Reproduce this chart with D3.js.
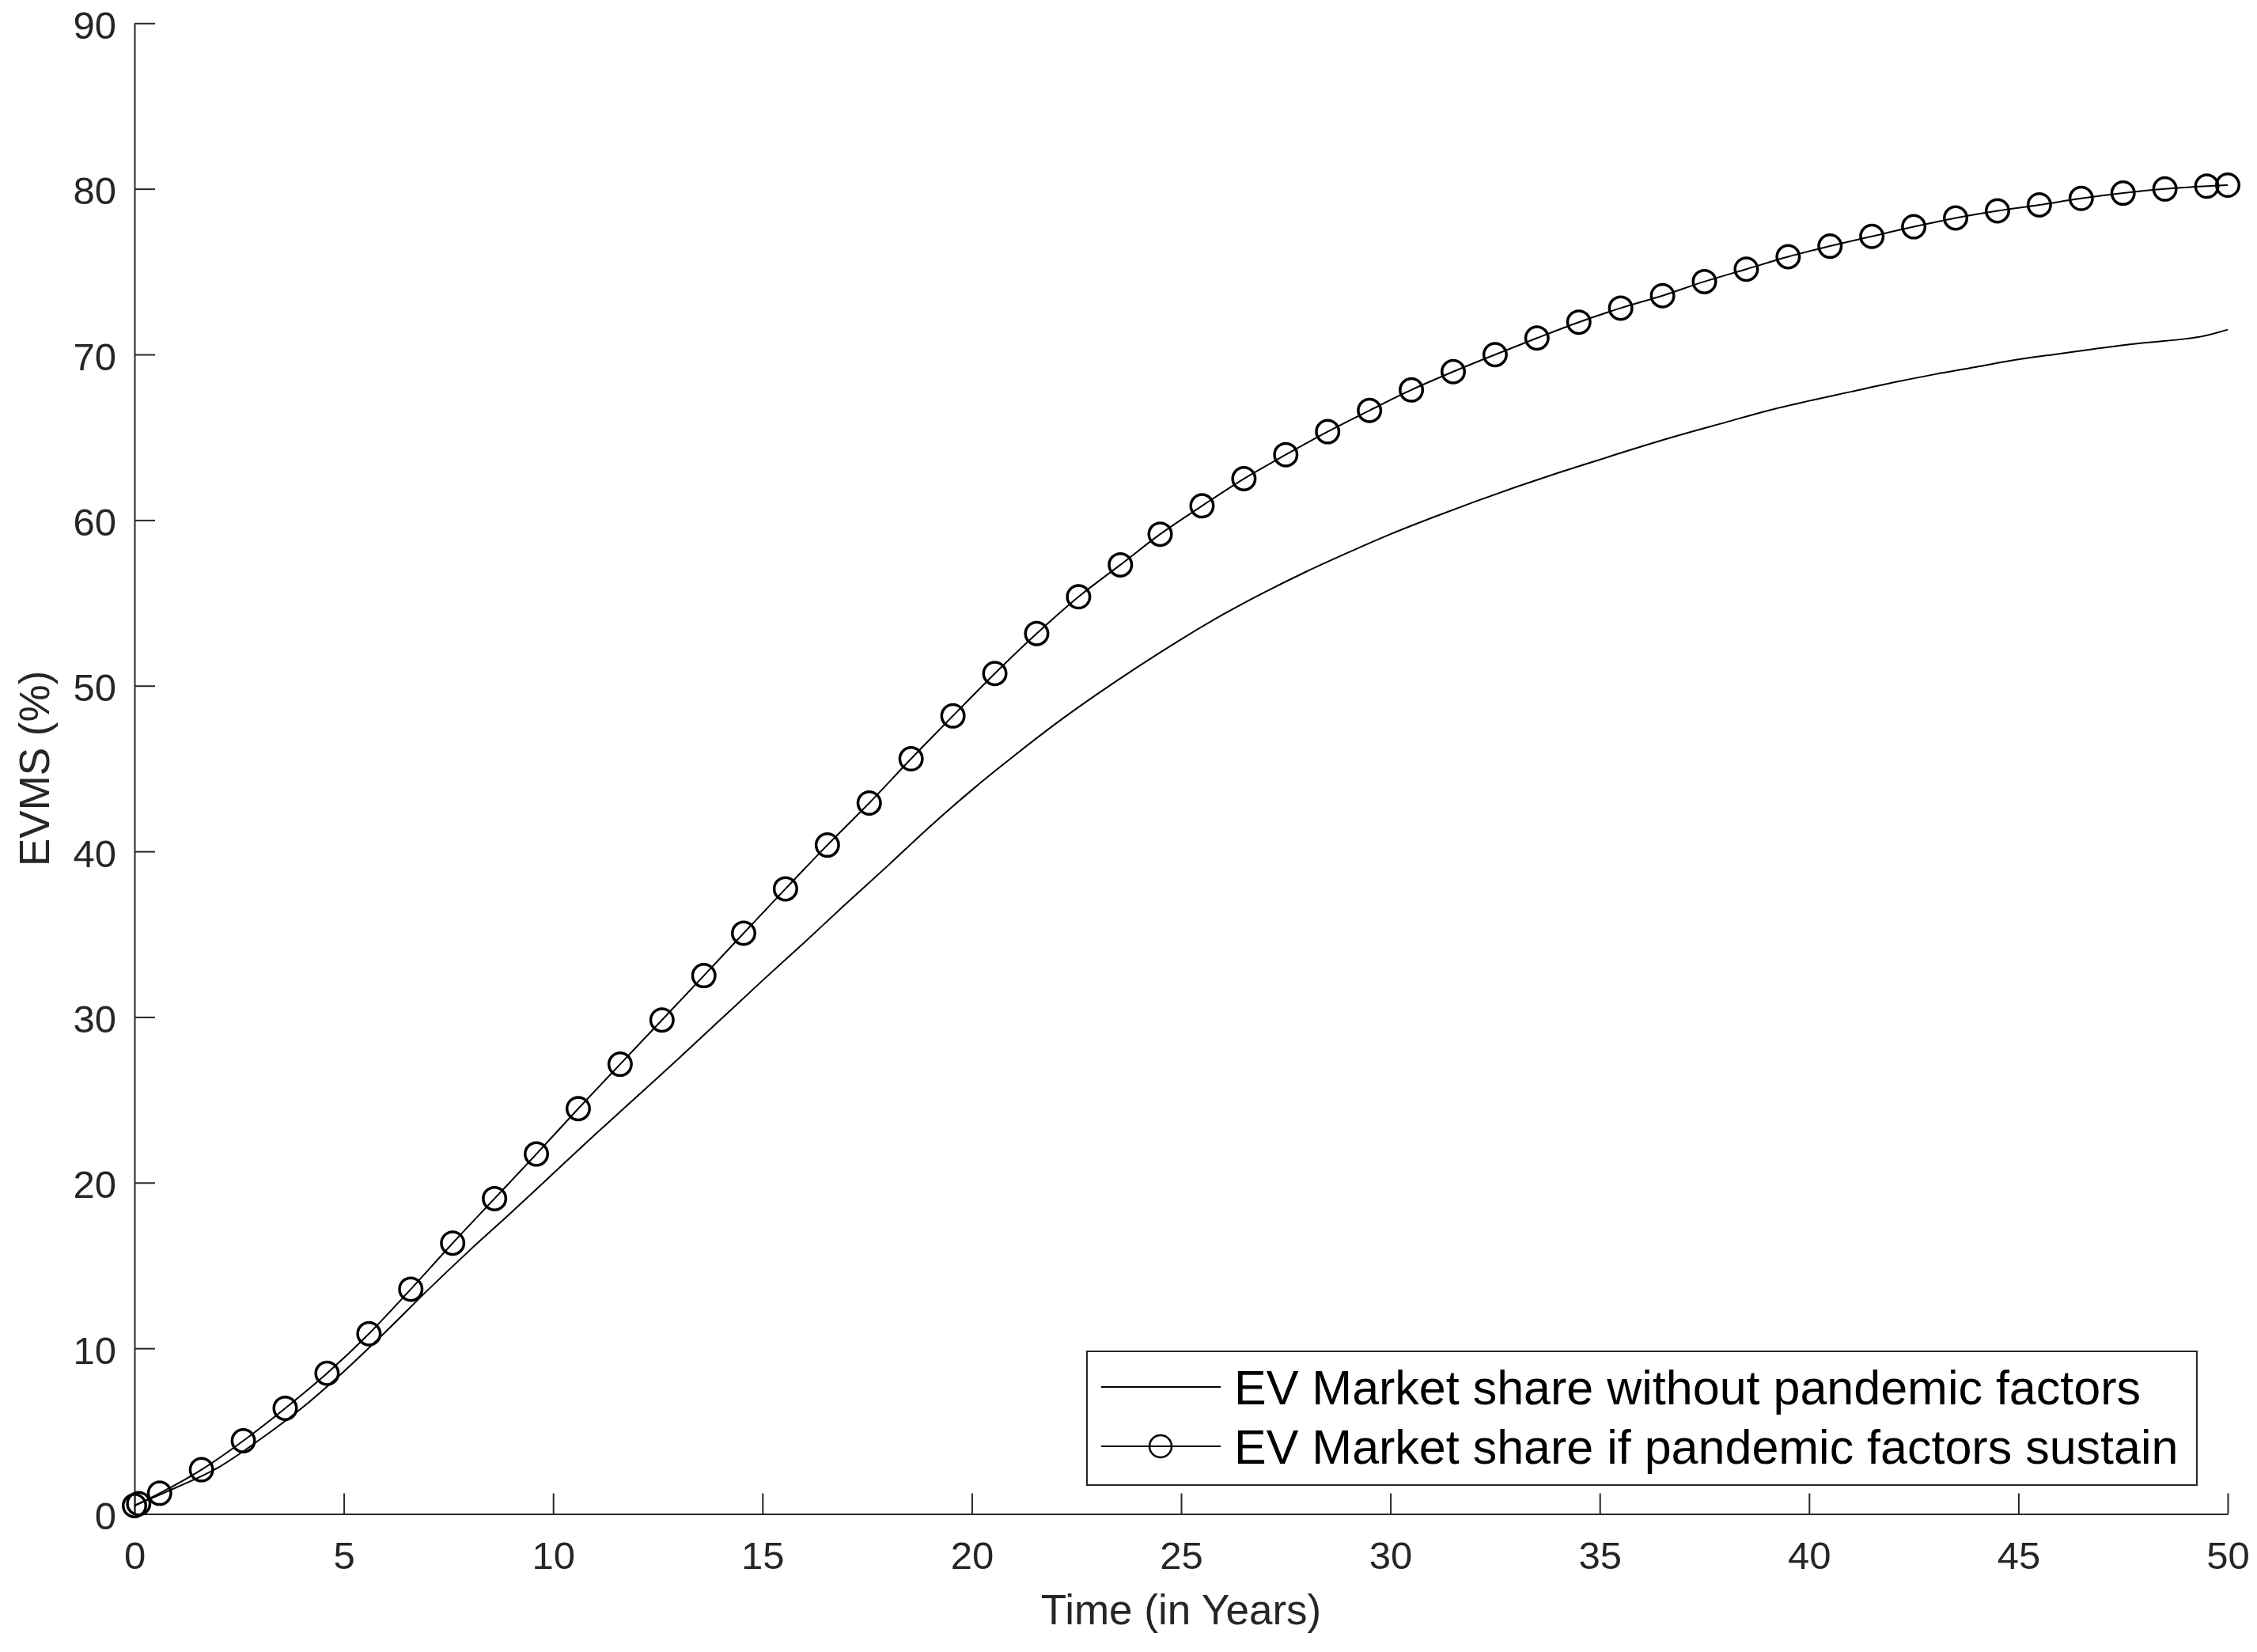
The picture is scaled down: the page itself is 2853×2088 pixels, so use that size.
<!DOCTYPE html>
<html>
<head>
<meta charset="utf-8">
<script src="https://cdn.jsdelivr.net/npm/d3@7"></script>
<style>
  html, body { margin: 0; padding: 0; background: #fff; }
  svg { display: block; font-family: "Liberation Sans", Arial, Helvetica, sans-serif; }
</style>
</head>
<body>
<svg id="chart" width="2853" height="2088"></svg>
<script>
// ---- Data ----
const xTicks = [0, 5, 10, 15, 20, 25, 30, 35, 40, 45, 50];
const yTicks = [0, 10, 20, 30, 40, 50, 60, 70, 80, 90];

// EV market share without pandemic factors (solid line)
const baseTime = [0, 0.6, 1, 2, 3, 4, 5, 6, 7, 8, 9, 10, 11, 12, 13, 14, 15, 16, 17, 18, 19, 20,
  21, 22, 23, 24, 25, 26, 27, 28, 29, 30, 31, 32, 33, 34, 35, 36, 37, 38, 39, 40,
  41, 42, 43, 44, 45, 46, 47, 48, 49, 49.3, 50];
const baseShare = [0.5, 1.15, 1.6, 2.8, 4.5, 6.4, 8.6, 11.0, 13.5, 15.9, 18.2, 20.55, 22.9, 25.2, 27.5, 29.85, 32.2, 34.5, 36.85, 39.15, 41.5, 43.7,
  45.75, 47.7, 49.5, 51.2, 52.8, 54.3, 55.65, 56.9, 58.05, 59.15, 60.15, 61.1, 62.0, 62.85, 63.65, 64.45, 65.2, 65.9, 66.6, 67.2,
  67.75, 68.3, 68.8, 69.25, 69.7, 70.05, 70.4, 70.7, 70.95, 71.05, 71.5];

// EV market share if pandemic factors sustain (line with circle markers)
const pandTime = [0, 0.1, 0.6, 1.6, 2.6, 3.6, 4.6, 5.6, 6.6, 7.6, 8.6, 9.6, 10.6, 11.6, 12.6, 13.6,
  14.55, 15.55, 16.55, 17.55, 18.55, 19.55, 20.55, 21.55, 22.55, 23.55, 24.5, 25.5, 26.5, 27.5, 28.5,
  29.5, 30.5, 31.5, 32.5, 33.5, 34.5, 35.5, 36.5, 37.5, 38.5, 39.5, 40.5, 41.5, 42.5, 43.5, 44.5,
  45.5, 46.5, 47.5, 48.5, 49.5, 50];
const pandShare = [0.5, 0.62, 1.25, 2.67, 4.42, 6.38, 8.49, 10.88, 13.57, 16.35, 19.04, 21.73, 24.47, 27.15, 29.82, 32.5,
  35.06, 37.74, 40.38, 42.92, 45.59, 48.18, 50.74, 53.15, 55.37, 57.3, 59.15, 60.86, 62.5, 63.95, 65.34,
  66.62, 67.86, 68.96, 69.99, 70.99, 71.95, 72.8, 73.55, 74.4, 75.15, 75.9, 76.54, 77.13, 77.71, 78.24, 78.67,
  79.03, 79.42, 79.74, 79.99, 80.16, 80.22];

const seriesNames = ["EV Market share without pandemic factors", "EV Market share if pandemic factors sustain"];
const xLabel = "Time (in Years)";
const yLabel = "EVMS (%)";

// ---- Layout ----
const svg = d3.select("#chart");
const plotLeft = 170, plotRight = 2816, plotTop = 29.3, plotBottom = 1913.5;
const axisColor = "#262626";

const x = d3.scaleLinear().domain([0, 50]).range([plotLeft, plotRight]);
const y = d3.scaleLinear().domain([0, 90]).range([plotBottom, plotTop]);

const base = baseTime.map((t, i) => ({ t, v: baseShare[i] }));
const pand = pandTime.map((t, i) => ({ t, v: pandShare[i] }));

// Axes
const xAxis = d3.axisBottom(x).tickValues(xTicks).tickSizeInner(-26).tickSizeOuter(0).tickPadding(35)
  .tickFormat(d3.format("d"));
const yAxis = d3.axisLeft(y).tickValues(yTicks).tickSizeInner(-26).tickSizeOuter(0).tickPadding(23)
  .tickFormat(d3.format("d"));

const gx = svg.append("g").attr("transform", `translate(0,${plotBottom})`).call(xAxis);
const gy = svg.append("g").attr("transform", `translate(${plotLeft},0)`).call(yAxis);

[gx, gy].forEach(g => {
  g.select(".domain").attr("stroke", axisColor).attr("stroke-width", 2);
  g.selectAll(".tick line").attr("stroke", axisColor).attr("stroke-width", 2);
  g.selectAll(".tick text").attr("fill", axisColor).attr("font-size", 49)
    .attr("font-family", "'Liberation Sans', Arial, Helvetica, sans-serif");
});
gy.selectAll(".tick text").attr("dy", "0.39em");

// Axis labels
svg.append("text").attr("x", (plotLeft + plotRight) / 2).attr("y", 2053)
  .attr("text-anchor", "middle").attr("font-size", 53).attr("fill", axisColor).text(xLabel);
svg.append("text").attr("transform", `translate(62,${(plotTop + plotBottom) / 2}) rotate(-90)`)
  .attr("text-anchor", "middle").attr("font-size", 53).attr("fill", axisColor).text(yLabel);

// Lines
const lineBase = d3.line().x(d => x(d.t)).y(d => y(d.v)).curve(d3.curveMonotoneX);
const linePand = d3.line().x(d => x(d.t)).y(d => y(d.v)).curve(d3.curveMonotoneX);

svg.append("path").datum(base).attr("d", lineBase)
  .attr("fill", "none").attr("stroke", "#000").attr("stroke-width", 2);
svg.append("path").datum(pand).attr("d", linePand)
  .attr("fill", "none").attr("stroke", "#000").attr("stroke-width", 2);

svg.append("g").selectAll("circle").data(pand).join("circle")
  .attr("cx", d => x(d.t)).attr("cy", d => y(d.v)).attr("r", 14.25)
  .attr("fill", "none").attr("stroke", "#000").attr("stroke-width", 3.5);

// Legend
const lg = svg.append("g");
lg.append("rect").attr("x", 1374).attr("y", 1708).attr("width", 1403).attr("height", 169)
  .attr("fill", "#fff").attr("stroke", axisColor).attr("stroke-width", 2);
const rows = [1753, 1828];
rows.forEach((ry, i) => {
  lg.append("line").attr("x1", 1392).attr("x2", 1543).attr("y1", ry).attr("y2", ry)
    .attr("stroke", "#000").attr("stroke-width", 2);
  if (i === 1) {
    lg.append("circle").attr("cx", 1467).attr("cy", ry).attr("r", 14)
      .attr("fill", "none").attr("stroke", "#000").attr("stroke-width", 2.5);
  }
  lg.append("text").attr("x", 1560).attr("y", ry + 22).attr("font-size", 61).attr("fill", "#000")
    .text(seriesNames[i]);
});
</script>
</body>
</html>
